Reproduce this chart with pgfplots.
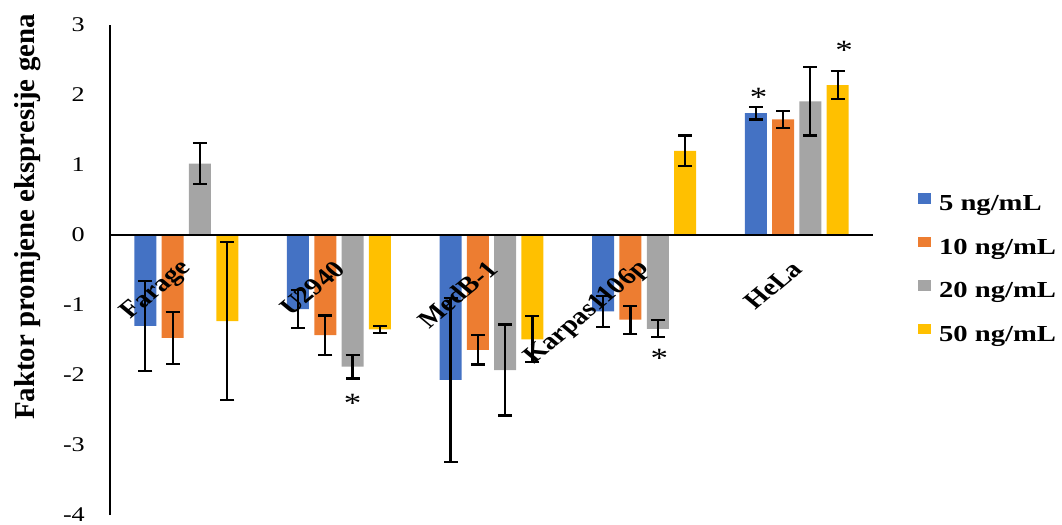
\documentclass[border=0pt]{standalone}
\usepackage{pgfplots}
\pgfplotsset{compat=1.18}
\usepackage{pgfplotstable}
\usepackage{fontspec}
\setmainfont{Liberation Serif}
\newfontfamily\widefont{Liberation Serif}[FakeStretch=1.25]

\definecolor{c5}{HTML}{4472C4}
\definecolor{c10}{HTML}{ED7D31}
\definecolor{c20}{HTML}{A5A5A5}
\definecolor{c50}{HTML}{FFC000}

% columns: category index, mean fold change, error
\pgfplotstableread{
x y e
0 -1.30 0.64
1 -1.06 0.27
2 -2.07 1.17
3 -1.09 0.22
4 1.74 0.09
}\datafive
\pgfplotstableread{
x y e
0 -1.47 0.37
1 -1.43 0.28
2 -1.64 0.21
3 -1.21 0.20
4 1.65 0.12
}\dataten
\pgfplotstableread{
x y e
0 1.02 0.29
1 -1.88 0.17
2 -1.93 0.65
3 -1.34 0.12
4 1.91 0.49
}\datatwenty
\pgfplotstableread{
x y e
0 -1.23 1.13
1 -1.35 0.05
2 -1.49 0.33
3 1.20 0.22
4 2.14 0.20
}\datafifty

\pgfplotsset{
  geom/.style={
    at={(110bp,10bp)}, anchor=south west,
    scale only axis, width=763bp, height=490bp,
    xmin=-0.5, xmax=4.5, ymin=-4, ymax=3,
  },
  errstyle/.style={
    error bars/.cd, y dir=both, y explicit,
    error bar style={draw=black, solid, line width=2.2bp},
    error mark=|,
    error mark options={draw=black, solid, line width=2.2bp, mark size=7bp}
  }
}

\begin{document}
\begin{tikzpicture}
\path[use as bounding box] (0,0) rectangle (1062bp,525bp);
\begin{axis}[
  geom,
  ybar=5.3bp, bar width=22bp,
  axis x line*=middle, axis y line*=left,
  hide obscured x ticks=false, hide obscured y ticks=false,
  axis line style={line width=1.5bp, black},
  axis on top,
  major tick length=0pt,
  xtick={0,...,4},
  xticklabels={Farage,U2940,MedB-1,Karpas1106p,HeLa},
  ytick={-4,...,3},
  yticklabels={-4,-3,-2,-1,0,1,2,3},
  xticklabel style={font=\bfseries\fontsize{24}{24}\selectfont, inner sep=0pt,
    xshift=1bp, yshift=-30bp, xscale=1.2, rotate=45, anchor=east},
  yticklabel style={font=\widefont\fontsize{21}{21}\selectfont, inner sep=0pt,
    anchor=east, xshift=-25bp},
  ylabel={Faktor promjene ekspresije gena},
  ylabel style={font=\bfseries\fontsize{29}{29}\selectfont,
    at={(axis description cs:-0.108,0.608)}, anchor=center},
  legend cell align=left,
  legend image code/.code={\fill[#1,draw=none] (0bp,1.5bp) rectangle (13bp,12bp);},
  legend style={at={(axis description cs:1.059,0.657)}, anchor=north west,
    draw=none, fill=none, inner sep=0pt, outer sep=0pt,
    row sep=22bp, column sep=8bp,
    font=\widefont\bfseries\fontsize{23}{23}\selectfont,
    nodes={inner sep=0pt, text height=15bp, text depth=4bp}},
]
\addplot[fill=c5, draw=none, errstyle]
  table[x=x, y=y, y error=e] {\datafive};
\addlegendentry{5 ng/mL}
\addplot[fill=c10, draw=none, errstyle]
  table[x=x, y=y, y error=e] {\dataten};
\addlegendentry{10 ng/mL}
\addplot[fill=c20, draw=none, errstyle]
  table[x=x, y=y, y error=e] {\datatwenty};
\addlegendentry{20 ng/mL}
\addplot[fill=c50, draw=none, errstyle]
  table[x=x, y=y, y error=e] {\datafifty};
\addlegendentry{50 ng/mL}
\end{axis}
% significance markers, on the same axis frame
\begin{axis}[geom, hide axis]
\addplot[draw=none, mark=none, nodes near coords={*},
  nodes near coords style={anchor=center, inner sep=0pt, yshift=-5bp, black,
    font=\widefont\fontsize{28}{28}\selectfont}]
  coordinates {(1.09,-2.33) (3.10,-1.69) (3.75,2.04) (4.31,2.71)};
\end{axis}
\end{tikzpicture}
\end{document}
